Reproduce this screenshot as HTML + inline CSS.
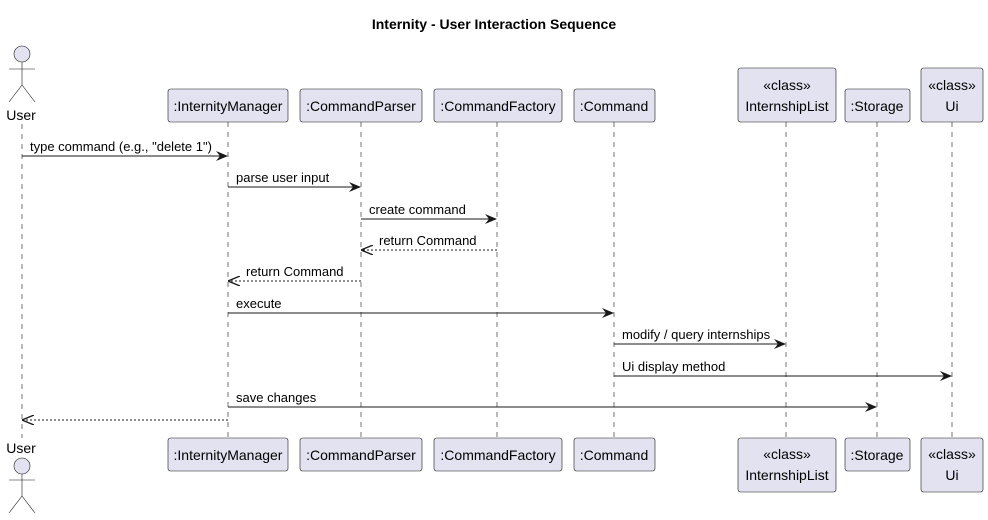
<!DOCTYPE html>
<html><head><meta charset="utf-8"><style>html,body{margin:0;padding:0;background:#fff}svg{display:block}</style></head>
<body>
<svg width="988" height="520" viewBox="0 0 988 520" xmlns="http://www.w3.org/2000/svg" font-family="Liberation Sans, Arial, sans-serif">
<defs>
<marker id="a" viewBox="0 0 12 10" refX="11" refY="5" markerWidth="12" markerHeight="10" markerUnits="userSpaceOnUse" orient="auto"><path d="M0,0 L12,5 L0,10 L4,5 Z" fill="#181818"/></marker>
<marker id="o" viewBox="0 0 12 10" refX="11" refY="5" markerWidth="12" markerHeight="10" markerUnits="userSpaceOnUse" orient="auto"><path d="M0,0 L12,5 L0,10" fill="none" stroke="#181818" stroke-width="1.3"/></marker>
</defs>
<text x="494" y="29" text-anchor="middle" font-size="14" font-weight="bold" fill="#000">Internity - User Interaction Sequence</text>
<g stroke="#181818" stroke-width="0.6" stroke-dasharray="5,5">
<line x1="22" y1="124" x2="22" y2="438"/>
<line x1="228" y1="122" x2="228" y2="438"/>
<line x1="361" y1="122" x2="361" y2="438"/>
<line x1="497" y1="122" x2="497" y2="438"/>
<line x1="614" y1="122" x2="614" y2="438"/>
<line x1="786" y1="122" x2="786" y2="438"/>
<line x1="877" y1="122" x2="877" y2="438"/>
<line x1="952" y1="122" x2="952" y2="438"/>
</g>
<g fill="#E2E2F0" stroke="#181818" stroke-width="0.6">
<circle cx="22" cy="54" r="8"/>
<circle cx="22" cy="466" r="8"/>
</g>
<g stroke="#181818" stroke-width="0.6" fill="none">
<path d="M22,62 V85 M9,69 H35 M22,85 L9,102 M22,85 L35,102"/>
<path d="M22,474 V496 M9,480 H35 M22,496 L9,513 M22,496 L35,513"/>
</g>
<g font-size="14" fill="#000" text-anchor="middle">
<text x="21" y="120">User</text>
<text x="21" y="453">User</text>
</g>
<g fill="#E2E2F0" stroke="#181818" stroke-width="0.6">
<rect x="168" y="89" width="120" height="33" rx="2.5"/>
<rect x="300" y="89" width="122" height="33" rx="2.5"/>
<rect x="434" y="89" width="128" height="33" rx="2.5"/>
<rect x="574" y="89" width="81" height="33" rx="2.5"/>
<rect x="738" y="68" width="98" height="54" rx="2.5"/>
<rect x="845" y="89" width="65" height="33" rx="2.5"/>
<rect x="921" y="68" width="62" height="54" rx="2.5"/>
<rect x="168" y="438" width="120" height="33" rx="2.5"/>
<rect x="300" y="438" width="122" height="33" rx="2.5"/>
<rect x="434" y="438" width="128" height="33" rx="2.5"/>
<rect x="574" y="438" width="81" height="33" rx="2.5"/>
<rect x="738" y="438" width="98" height="54" rx="2.5"/>
<rect x="845" y="438" width="65" height="33" rx="2.5"/>
<rect x="921" y="438" width="62" height="54" rx="2.5"/>
</g>
<g font-size="14" fill="#000" text-anchor="middle">
<text x="228" y="111">:InternityManager</text>
<text x="361" y="111">:CommandParser</text>
<text x="498" y="111">:CommandFactory</text>
<text x="614" y="111">:Command</text>
<text x="787" y="90">«class»</text>
<text x="787" y="111">InternshipList</text>
<text x="877" y="111">:Storage</text>
<text x="952" y="90">«class»</text>
<text x="952" y="111">Ui</text>
<text x="228" y="460">:InternityManager</text>
<text x="361" y="460">:CommandParser</text>
<text x="498" y="460">:CommandFactory</text>
<text x="614" y="460">:Command</text>
<text x="787" y="459">«class»</text>
<text x="787" y="480">InternshipList</text>
<text x="877" y="460">:Storage</text>
<text x="952" y="459">«class»</text>
<text x="952" y="480">Ui</text>
</g>
<g stroke="#181818" stroke-width="1">
<line x1="22" y1="156" x2="227" y2="156" marker-end="url(#a)"/>
<line x1="228" y1="187" x2="360" y2="187" marker-end="url(#a)"/>
<line x1="361" y1="219" x2="496" y2="219" marker-end="url(#a)"/>
<line x1="497" y1="250" x2="362" y2="250" stroke-dasharray="2,2" marker-end="url(#o)"/>
<line x1="361" y1="281" x2="229" y2="281" stroke-dasharray="2,2" marker-end="url(#o)"/>
<line x1="228" y1="313" x2="613" y2="313" marker-end="url(#a)"/>
<line x1="614" y1="344" x2="785" y2="344" marker-end="url(#a)"/>
<line x1="614" y1="376" x2="951" y2="376" marker-end="url(#a)"/>
<line x1="228" y1="407" x2="876" y2="407" marker-end="url(#a)"/>
<line x1="228" y1="420" x2="23" y2="420" stroke-dasharray="2,2" marker-end="url(#o)"/>
</g>
<g font-size="13" fill="#000">
<text x="30" y="151">type command (e.g., "delete 1")</text>
<text x="236" y="182">parse user input</text>
<text x="369" y="214">create command</text>
<text x="379" y="245">return Command</text>
<text x="246" y="276">return Command</text>
<text x="236" y="308">execute</text>
<text x="622" y="339">modify / query internships</text>
<text x="622" y="371">Ui display method</text>
<text x="236" y="402">save changes</text>
</g>
</svg>
</body></html>
